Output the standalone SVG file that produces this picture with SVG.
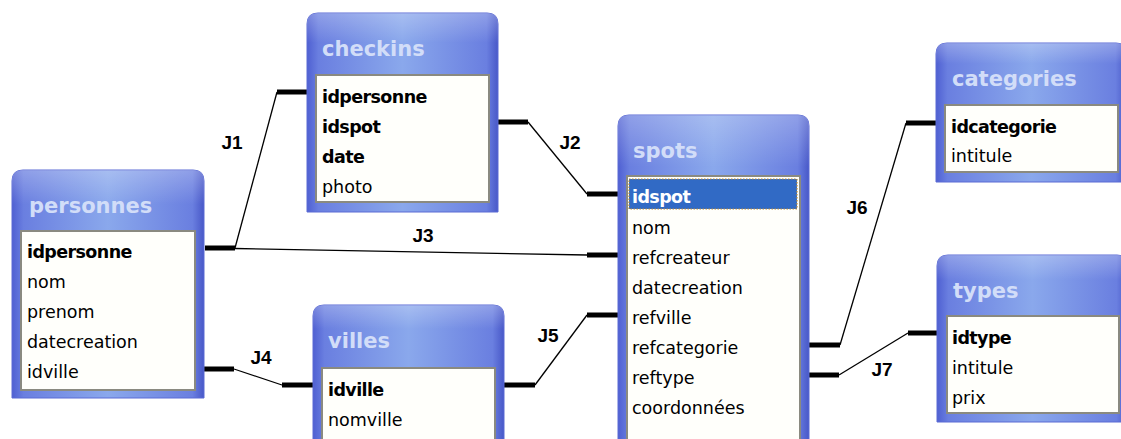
<svg xmlns="http://www.w3.org/2000/svg" width="1121" height="439" viewBox="0 0 1121 439">
<defs>
<linearGradient id="frame" x1="0" y1="0" x2="1" y2="0">
<stop offset="0" stop-color="#4f60d2"/>
<stop offset="0.06" stop-color="#6a7fe0"/>
<stop offset="0.5" stop-color="#8aa8ec"/>
<stop offset="0.94" stop-color="#6a7fe0"/>
<stop offset="1" stop-color="#4858c8"/>
</linearGradient>
<linearGradient id="gloss" x1="0" y1="0" x2="0" y2="1">
<stop offset="0" stop-color="#ffffff" stop-opacity="0.25"/>
<stop offset="0.15" stop-color="#ffffff" stop-opacity="0"/>
</linearGradient>
</defs>
<style>
.box{fill:url(#frame);stroke:#5a6ad4;stroke-width:1}
.gloss{fill:url(#gloss)}
.well{fill:#fffffb;stroke:#8a8a80;stroke-width:2}
.title{font-family:"DejaVu Sans",sans-serif;font-weight:bold;font-size:21px;fill:#d2ddf8}
.row{font-family:"DejaVu Sans",sans-serif;font-size:17.5px;fill:#000}
.key{font-weight:bold;letter-spacing:-0.6px}
.thick{stroke:#000;stroke-width:5;fill:none}
.thin{stroke:#000;stroke-width:1.3;fill:none}
.lbl{font-family:"Liberation Sans",Arial,sans-serif;font-weight:bold;font-size:19px;fill:#000;text-anchor:middle}
</style>
<rect width="1121" height="439" fill="#ffffff"/>

<g id="connectors">
<path class="thick" d="M205,248H235"/>
<path class="thin" d="M235,248L277,92"/>
<path class="thick" d="M277,92H308"/>
<path class="thick" d="M498,122H528"/>
<path class="thin" d="M528,122L587,194"/>
<path class="thick" d="M587,194H619"/>
<path class="thin" d="M235,248.5L587,255"/>
<path class="thick" d="M587,255H619"/>
<path class="thick" d="M204,369H234"/>
<path class="thin" d="M234,369L282,385"/>
<path class="thick" d="M282,385H314"/>
<path class="thick" d="M504,385H535"/>
<path class="thin" d="M535,385L587,315"/>
<path class="thick" d="M587,315H619"/>
<path class="thick" d="M809,345H840"/>
<path class="thin" d="M840,345L906,123"/>
<path class="thick" d="M906,123H937"/>
<path class="thick" d="M809,375H839"/>
<path class="thin" d="M839,375L908,333"/>
<path class="thick" d="M908,333H938"/>
<text class="lbl" x="232" y="149">J1</text>
<text class="lbl" x="570" y="149">J2</text>
<text class="lbl" x="423" y="242">J3</text>
<text class="lbl" x="261" y="364">J4</text>
<text class="lbl" x="548" y="342">J5</text>
<text class="lbl" x="857" y="214">J6</text>
<text class="lbl" x="882" y="376">J7</text>
</g>

<g id="personnes" transform="translate(12,170)">
<path class="box" d="M0,228V11Q0,0 11,0H181Q192,0 192,11V228Z"/>
<path class="gloss" d="M0,228V11Q0,0 11,0H181Q192,0 192,11V228Z"/>
<text class="title" x="17" y="43">personnes</text>
<rect class="well" x="9" y="61" width="174" height="159"/>
<text class="row key" x="15" y="88">idpersonne</text>
<text class="row" x="15" y="118">nom</text>
<text class="row" x="15" y="148">prenom</text>
<text class="row" x="15" y="178">datecreation</text>
<text class="row" x="15" y="208">idville</text>
</g>

<g id="checkins" transform="translate(307,13)">
<path class="box" d="M0,199V11Q0,0 11,0H180Q191,0 191,11V199Z"/>
<path class="gloss" d="M0,199V11Q0,0 11,0H180Q191,0 191,11V199Z"/>
<text class="title" x="15" y="43">checkins</text>
<rect class="well" x="9" y="62" width="173" height="127"/>
<text class="row key" x="15" y="90">idpersonne</text>
<text class="row key" x="15" y="120">idspot</text>
<text class="row key" x="15" y="150">date</text>
<text class="row" x="15" y="180">photo</text>
</g>

<g id="spots" transform="translate(618,115)">
<path class="box" d="M0,345V11Q0,0 11,0H180Q191,0 191,11V345Z"/>
<path class="gloss" d="M0,345V11Q0,0 11,0H180Q191,0 191,11V345Z"/>
<text class="title" x="15" y="43">spots</text>
<rect class="well" x="9" y="61" width="173" height="300"/>
<rect x="11" y="64" width="168" height="30" fill="#316ac5" stroke="#c08a30" stroke-width="1.2" stroke-dasharray="1.5 1.5"/>
<text class="row key" x="14" y="88" fill="#ffffff" style="fill:#ffffff">idspot</text>
<text class="row" x="14" y="119">nom</text>
<text class="row" x="14" y="149">refcreateur</text>
<text class="row" x="14" y="179">datecreation</text>
<text class="row" x="14" y="209">refville</text>
<text class="row" x="14" y="239">refcategorie</text>
<text class="row" x="14" y="269">reftype</text>
<text class="row" x="14" y="299">coordonnées</text>
</g>

<g id="categories" transform="translate(936,43)">
<path class="box" d="M0,139V11Q0,0 11,0H180Q191,0 191,11V139Z"/>
<path class="gloss" d="M0,139V11Q0,0 11,0H180Q191,0 191,11V139Z"/>
<text class="title" x="16" y="43">categories</text>
<rect class="well" x="9" y="62" width="173" height="67"/>
<text class="row key" x="15" y="90">idcategorie</text>
<text class="row" x="15" y="119">intitule</text>
</g>

<g id="types" transform="translate(937,255)">
<path class="box" d="M0,167V11Q0,0 11,0H180Q191,0 191,11V167Z"/>
<path class="gloss" d="M0,167V11Q0,0 11,0H180Q191,0 191,11V167Z"/>
<text class="title" x="16" y="43">types</text>
<rect class="well" x="10" y="61" width="172" height="97"/>
<text class="row key" x="15" y="89">idtype</text>
<text class="row" x="15" y="119">intitule</text>
<text class="row" x="15" y="149">prix</text>
</g>

<g id="villes" transform="translate(313,305)">
<path class="box" d="M0,160V11Q0,0 11,0H180Q191,0 191,11V160Z"/>
<path class="gloss" d="M0,160V11Q0,0 11,0H180Q191,0 191,11V160Z"/>
<text class="title" x="15" y="43">villes</text>
<rect class="well" x="9" y="63" width="173" height="120"/>
<text class="row key" x="15" y="91">idville</text>
<text class="row" x="15" y="121">nomville</text>
</g>
</svg>
